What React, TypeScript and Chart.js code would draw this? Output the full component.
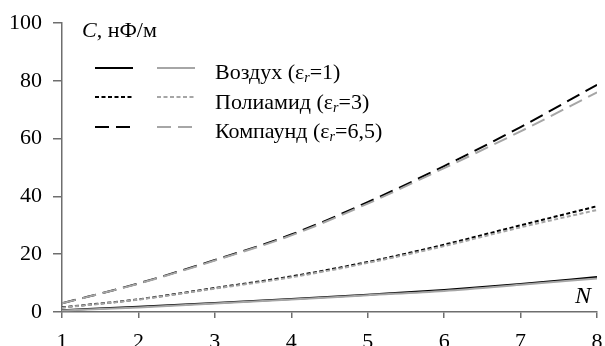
import React, { useEffect, useRef } from "react";
import { Chart, registerables } from "chart.js";

Chart.register(...registerables);

const nValues = [1, 2, 3, 4, 5, 6, 7, 8];
const airBlack = [0.6, 1.8, 3.1, 4.5, 6.0, 7.6, 9.7, 12.1];
const airGray = [0.5, 1.6, 2.9, 4.3, 5.8, 7.3, 9.4, 11.6];
const polyBlack = [1.6, 4.4, 8.3, 12.3, 17.3, 23.3, 30.0, 36.6];
const polyGray = [1.5, 4.3, 8.1, 12.0, 17.0, 22.8, 29.3, 35.3];
const compBlack = [3.0, 9.9, 18.0, 26.8, 38.0, 50.5, 64.0, 78.6];
const compGray = [3.0, 9.8, 17.8, 26.5, 37.5, 49.8, 62.5, 76.0];
const legendNames = ["Воздух", "Полиамид", "Компаунд"];
const legendEps = ["1", "3", "6,5"];
const yTitle = "нФ/м";

const FONT = "'Liberation Serif'";
const BLACK = "#000000";
const GRAY = "#a6a6a6";
const AXIS = "#6e6e6e";
const DASH_SOLID: number[] = [];
const DASH_SHORT = [4, 2.5];
const DASH_LONG = [14, 7];
const dashes = [DASH_SOLID, DASH_SHORT, DASH_LONG];

const pts = (arr: number[]) => arr.map((y, i) => ({ x: nValues[i], y }));

const overlay = {
  id: "overlay",
  afterDraw(chart: any) {
    const ctx = chart.ctx as CanvasRenderingContext2D;
    ctx.save();
    ctx.fillStyle = "#000";
    ctx.textBaseline = "alphabetic";
    ctx.textAlign = "left";
    ctx.font = `italic 22px ${FONT}`;
    ctx.fillText("C", 82, 37);
    const w = ctx.measureText("C").width;
    ctx.font = `22px ${FONT}`;
    ctx.fillText(", " + yTitle, 82 + w, 37);
    ctx.font = `italic 24px ${FONT}`;
    ctx.textAlign = "right";
    ctx.fillText("N", 591, 303);
    ctx.textAlign = "left";
    const lineYs = [68, 97, 127];
    const baseYs = [79, 108.5, 137.5];
    for (let i = 0; i < 3; i++) {
      ctx.lineWidth = 2;
      ctx.setLineDash(dashes[i]);
      ctx.strokeStyle = BLACK;
      ctx.beginPath();
      ctx.moveTo(95, lineYs[i]);
      ctx.lineTo(133, lineYs[i]);
      ctx.stroke();
      ctx.strokeStyle = GRAY;
      ctx.beginPath();
      ctx.moveTo(157, lineYs[i]);
      ctx.lineTo(195, lineYs[i]);
      ctx.stroke();
      ctx.setLineDash([]);
      let x = 215;
      const y = baseYs[i];
      ctx.font = `22px ${FONT}`;
      const s1 = legendNames[i] + " (ε";
      ctx.fillText(s1, x, y);
      x += ctx.measureText(s1).width;
      ctx.font = `italic 14px ${FONT}`;
      ctx.fillText("r", x, y + 3);
      x += ctx.measureText("r").width;
      ctx.font = `22px ${FONT}`;
      ctx.fillText("=" + legendEps[i] + ")", x, y);
    }
    ctx.restore();
  },
};

export default function App() {
  const ref = useRef<HTMLCanvasElement>(null);
  useEffect(() => {
    document.body.style.margin = "0";
    let chart: Chart | null = null;
    let cancelled = false;
    const mk = (label: string, data: number[], color: string, dash: number[], order: number) => ({
      label,
      data: pts(data),
      borderColor: color,
      backgroundColor: color,
      borderWidth: 2,
      borderDash: dash,
      pointRadius: 0,
      tension: 0.35,
      cubicInterpolationMode: "monotone" as const,
      order,
    });
    const build = () => {
      if (cancelled) return;
      chart = new Chart(ref.current as HTMLCanvasElement, {
        type: "line",
        data: {
          datasets: [
            mk("Воздух", airBlack, BLACK, DASH_SOLID, 2),
            mk("Воздух", airGray, GRAY, DASH_SOLID, 1),
            mk("Полиамид", polyBlack, BLACK, DASH_SHORT, 2),
            mk("Полиамид", polyGray, GRAY, DASH_SHORT, 1),
            mk("Компаунд", compBlack, BLACK, DASH_LONG, 2),
            mk("Компаунд", compGray, GRAY, DASH_LONG, 1),
          ],
        },
        options: {
          responsive: false,
          animation: false,
          layout: { padding: { top: 23, right: 8, left: 0, bottom: 0 } },
          plugins: { legend: { display: false }, tooltip: { enabled: false } },
          scales: {
            x: {
              type: "linear",
              min: 1,
              max: 8,
              afterFit: (s: any) => {
                s.height = 34;
                s.paddingLeft = 0;
                s.paddingRight = 0;
              },
              ticks: { stepSize: 1, color: "#000", padding: 11, maxRotation: 0, font: { family: FONT, size: 22 } },
              grid: { drawOnChartArea: false, tickLength: 6, color: AXIS, lineWidth: 1.5 },
              border: { color: AXIS, width: 1.5 },
            },
            y: {
              min: 0,
              max: 100,
              afterFit: (s: any) => {
                s.width = 62;
                s.paddingTop = 0;
                s.paddingBottom = 0;
              },
              ticks: { stepSize: 20, color: "#000", padding: 11, font: { family: FONT, size: 22 } },
              grid: { drawOnChartArea: false, tickLength: 9, color: AXIS, lineWidth: 1.5 },
              border: { color: AXIS, width: 1.5 },
            },
          },
        },
        plugins: [overlay],
      });
    };
    const fonts = (document as any).fonts;
    if (fonts && fonts.load) {
      Promise.all([
        fonts.load(`22px ${FONT}`, "100Воздух"),
        fonts.load(`italic 22px ${FONT}`, "CN r"),
      ]).then(build, build);
    } else {
      build();
    }
    return () => {
      cancelled = true;
      if (chart) chart.destroy();
    };
  }, []);
  return <canvas ref={ref} width={605} height={346} style={{ display: "block", width: 605, height: 346 }} />;
}
